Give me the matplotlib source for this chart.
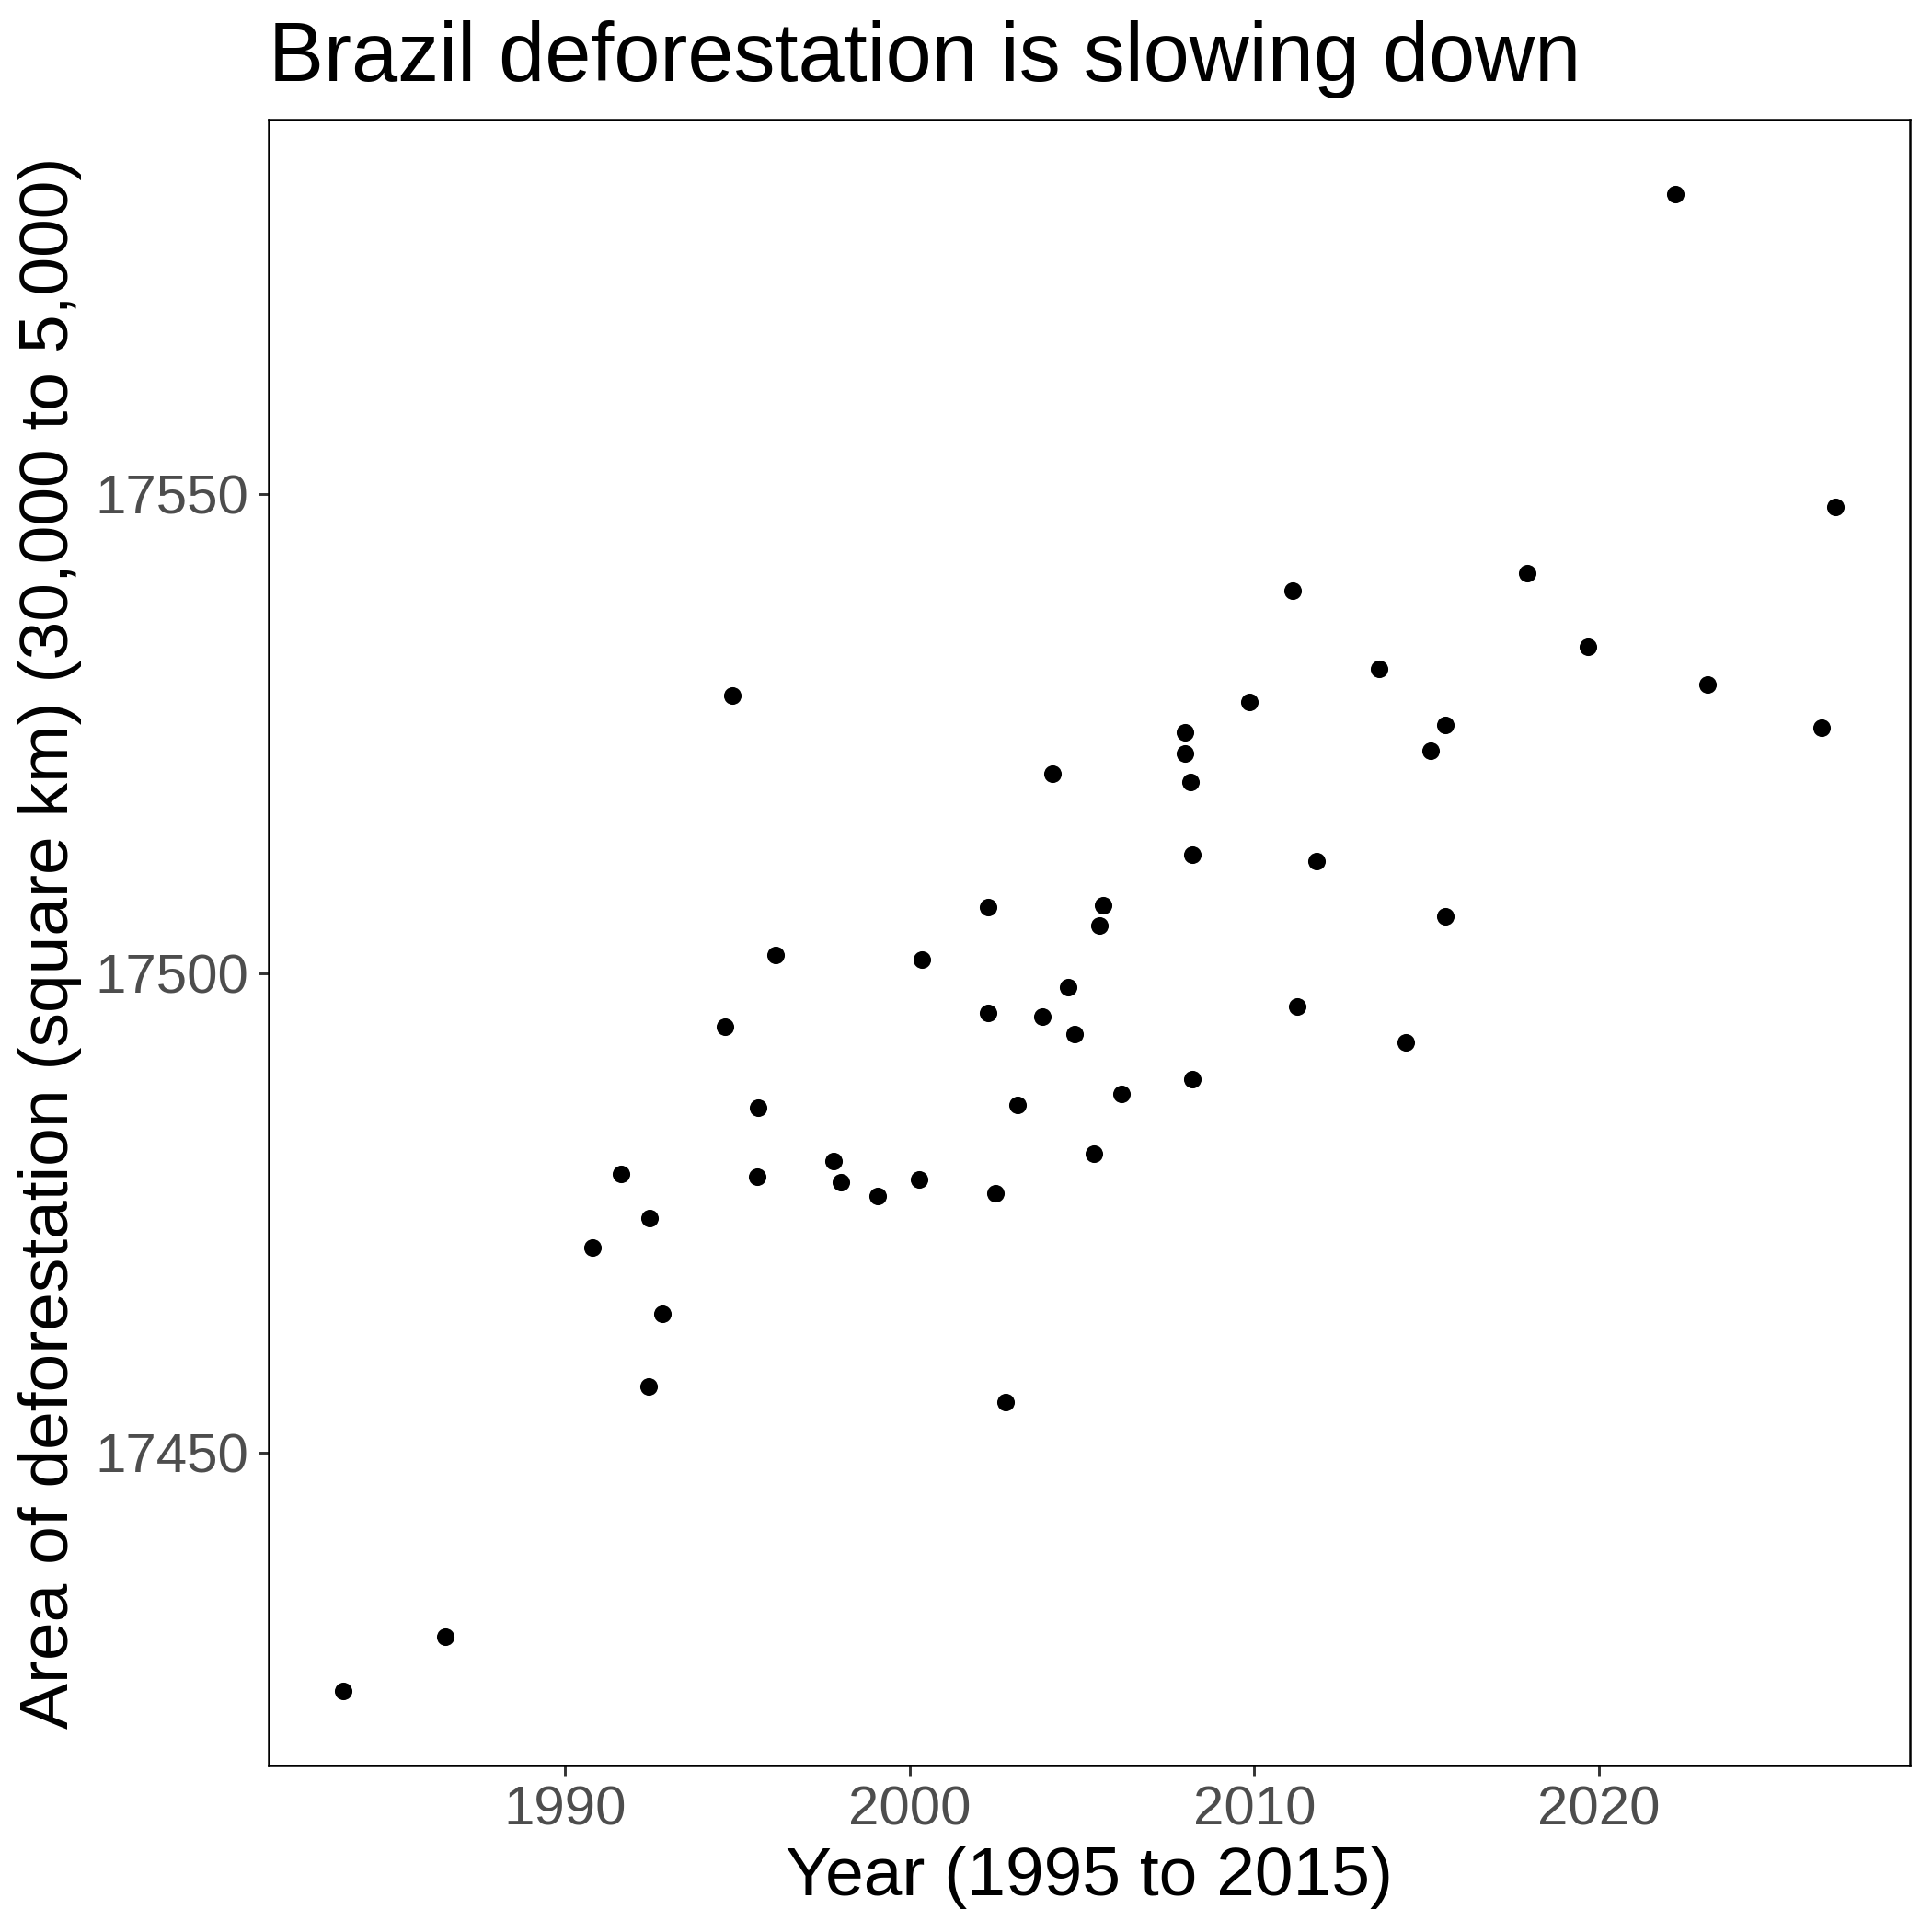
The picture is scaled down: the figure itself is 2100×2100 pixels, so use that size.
import matplotlib
matplotlib.use("Agg")
import matplotlib.pyplot as plt

# Values
years = [
    1983.57, 1986.54, 1990.79, 1991.64, 1992.46, 1992.43, 1992.82, 1994.64,
    1994.86, 1995.61, 1995.57, 1996.11, 1997.79, 1998.00, 1999.07, 2000.29,
    2000.36, 2002.29, 2002.29, 2002.50, 2002.79, 2003.14, 2003.86, 2004.14,
    2004.61, 2004.79, 2005.36, 2005.50, 2005.61, 2006.14, 2008.00, 2008.00,
    2008.14, 2008.21, 2008.21, 2009.86, 2011.11, 2011.25, 2011.82, 2013.61,
    2014.39, 2015.11, 2015.54, 2015.54, 2017.93, 2019.68, 2022.21, 2023.14,
    2026.46, 2026.86,
]
area = [
    17425.2, 17430.8, 17471.4, 17479.1, 17474.5, 17456.9, 17464.5, 17494.4,
    17529.0, 17486.0, 17478.8, 17501.9, 17480.4, 17478.2, 17476.8, 17478.5,
    17501.4, 17506.9, 17495.9, 17477.1, 17455.3, 17486.3, 17495.5, 17520.8,
    17498.5, 17493.7, 17481.2, 17505.0, 17507.1, 17487.4, 17525.1, 17522.9,
    17519.9, 17512.4, 17489.0, 17528.3, 17539.9, 17496.5, 17511.7, 17531.7,
    17492.8, 17523.2, 17525.9, 17505.9, 17541.7, 17534.0, 17581.2, 17530.1,
    17525.6, 17548.6,
]
x_ticks = [1990, 2000, 2010, 2020]
y_ticks = [17450, 17500, 17550]

title = "Brazil deforestation is slowing down"
x_label = "Year (1995 to 2015)"
y_label = "Area of deforestation (square km) (30,000 to 5,000)"

plt.rcParams["font.family"] = ["Liberation Sans", "DejaVu Sans"]

fig = plt.figure(figsize=(7, 7), dpi=300)
ax = fig.add_axes([0.139, 0.0862, 0.8496, 0.8519])

ax.scatter(years, area, s=21, color="black", linewidths=0, zorder=3)
ax.margins(0.05)

ax.set_xticks(x_ticks)
ax.set_yticks(y_ticks)
ax.tick_params(axis="both", length=2.75, width=0.7, color="#333333",
               labelsize=14.4, labelcolor="#4D4D4D", pad=2.4)

for spine in ax.spines.values():
    spine.set_linewidth(0.6)
    spine.set_color("black")

ax.set_xlabel(x_label, fontsize=18, labelpad=2.5)
ax.set_ylabel(y_label, fontsize=18, labelpad=3.5)
ax.set_title(title, loc="left", fontsize=21.6, pad=10)

fig.savefig("out.png", dpi=300, facecolor="white")
